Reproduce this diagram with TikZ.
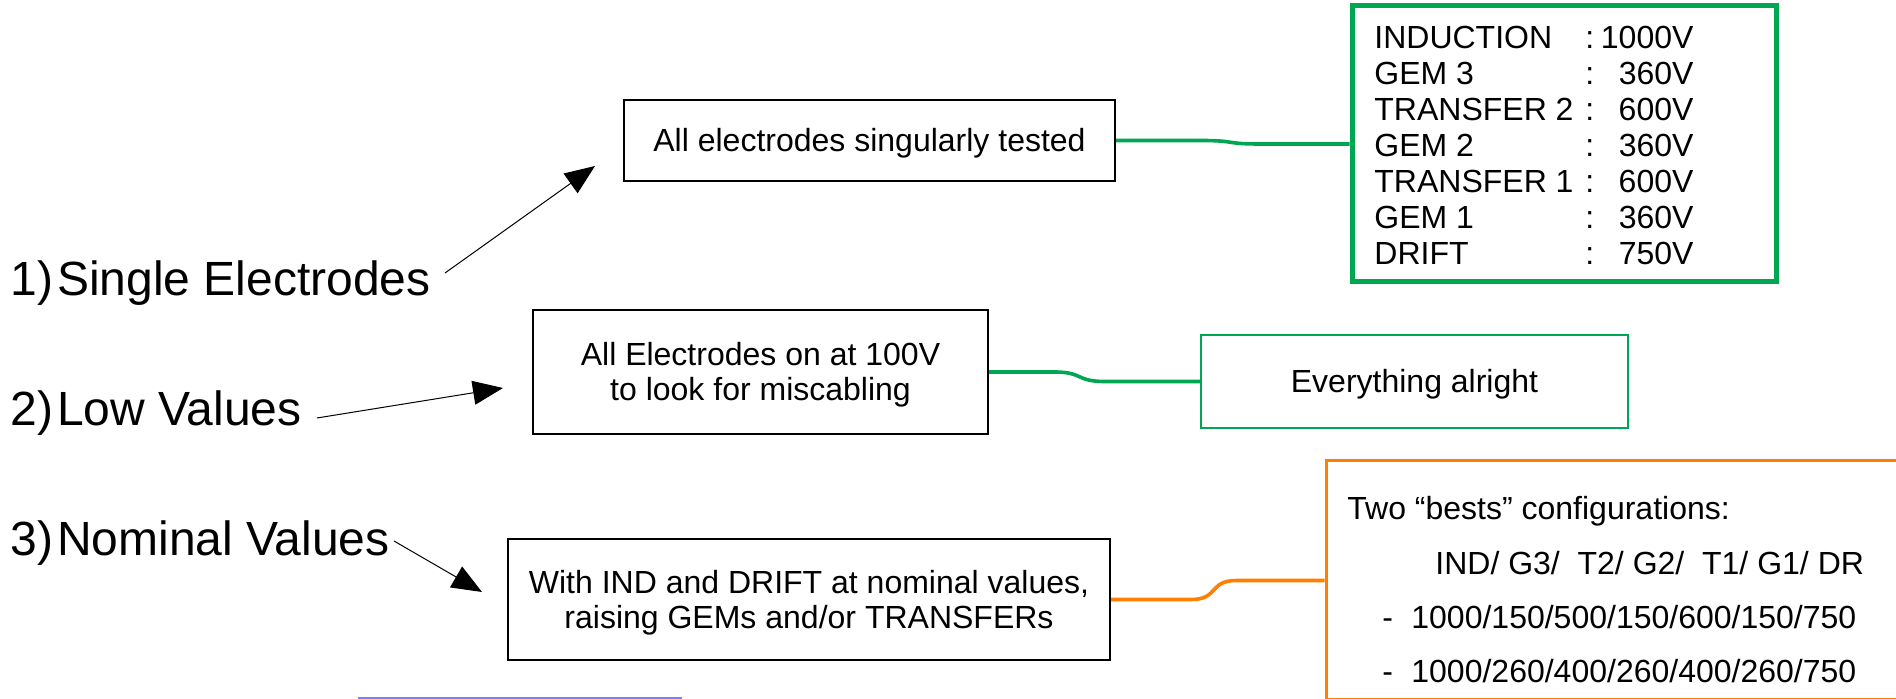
\documentclass[tikz,border=0pt]{standalone}
\usepackage{fontspec}
\setmainfont{Liberation Sans}
\usetikzlibrary{arrows.meta,calc}
\definecolor{lgreen}{RGB}{0,166,81}
\definecolor{lorange}{RGB}{255,128,0}
\definecolor{lblue}{RGB}{125,125,255}
\newcommand{\lowertext}[1]{\raisebox{-2.2pt}[\height][\depth]{\begin{tabular}{@{}c@{}}#1\end{tabular}}}
\begin{document}
\begin{tikzpicture}[x=0.5pt,y=-0.5pt,
  boxtext/.style={inner sep=0pt,align=center,font=\fontsize{16}{17.5}\selectfont},
  blackbox/.style={boxtext,draw=black,line width=1pt},
  steplabel/.style={inner sep=0pt,anchor=base west,font=\fontsize{24}{28}\selectfont},
  plain/.style={inner sep=0pt,anchor=base west,font=\fontsize{16}{17.95}\selectfont},
  pointer/.style={draw=black,line width=0.5pt,-{Triangle[length=15pt,width=12pt]}},
  gline/.style={draw=lgreen,line width=1.8pt},
  oline/.style={draw=lorange,line width=1.8pt}]
\useasboundingbox (0,0) rectangle (1896,699);

% left step labels
\node[steplabel] (l1) at (10,296) {1)\hspace{2pt}Single Electrodes};
\node[steplabel] (l2) at (10,426) {2)\hspace{2pt}Low Values};
\node[steplabel] (l3) at (10,556) {3)\hspace{2pt}Nominal Values};

% boxes
\node[blackbox,minimum width=245.5pt,minimum height=40.5pt] (b1) at (869.5,140.5) {\lowertext{All electrodes singularly tested}};
\node[blackbox,minimum width=227.5pt,minimum height=62pt] (b2) at (760.5,372) {\lowertext{All Electrodes on at 100V\\ to look for miscabling}};
\node[blackbox,minimum width=301pt,minimum height=60.5pt] (b3) at (809,599.5) {\lowertext{With IND and DRIFT at nominal values,\\raising GEMs and/or TRANSFERs}};

\node[draw=lgreen,line width=2.5pt,inner sep=0pt,minimum width=212pt,minimum height=138pt] (gbox) at (1564,144) {};
\node[plain] (gtext) at (1374,49) {\begin{tabular}[t]{@{}l@{}}
\makebox[105.5pt][l]{INDUCTION}:\makebox[49.6pt][r]{1000V}\\
\makebox[105.5pt][l]{GEM 3}:\makebox[49.6pt][r]{360V}\\
\makebox[105.5pt][l]{TRANSFER 2}:\makebox[49.6pt][r]{600V}\\
\makebox[105.5pt][l]{GEM 2}:\makebox[49.6pt][r]{360V}\\
\makebox[105.5pt][l]{TRANSFER 1}:\makebox[49.6pt][r]{600V}\\
\makebox[105.5pt][l]{GEM 1}:\makebox[49.6pt][r]{360V}\\
\makebox[105.5pt][l]{DRIFT}:\makebox[49.6pt][r]{750V}
\end{tabular}};

\node[boxtext,draw=lgreen,line width=1pt,minimum width=213.5pt,minimum height=46.5pt] (ok) at (1414.5,381.5) {\lowertext{Everything alright}};

\node[draw=lorange,line width=1.5pt,inner sep=0pt,minimum width=292pt,minimum height=119.5pt] (obox) at (1618,580.5) {};
\node[plain] (o1) at (1347,519.5) {Two “bests” configurations:};
\node[plain] (o2) at (1435,574.5) {IND/ G3/\ \ T2/ G2/\ \ T1/ G1/ DR};
\node[plain] (o3) at (1382,628.5) {\makebox[14.5pt][l]{-}1000/150/500/150/600/150/750};
\node[plain] (o4) at (1382,682.5) {\makebox[14.5pt][l]{-}1000/260/400/260/400/260/750};

\node[draw=lblue,line width=1pt,inner sep=0pt,minimum width=161pt,minimum height=20pt] (blue) at (520,718) {};

% arrows
\coordinate (a1s) at (445,273); \coordinate (a1e) at (595,166);
\coordinate (a2s) at (317,418); \coordinate (a2e) at (503,388);
\coordinate (a3s) at (394,541); \coordinate (a3e) at (482,592);
\draw[pointer] (a1s) -- (a1e);
\draw[pointer] (a2s) -- (a2e);
\draw[pointer] (a3s) -- (a3e);

% connectors
\draw[gline] (b1.east) -- ++(85,0) .. controls +(35,0) and +(-35,0) .. ($(gbox.west)+(-90,0)$) -- (gbox.west);
\draw[gline] (b2.east) -- ++(65,0) .. controls +(30,0) and +(-30,0) .. ($(ok.west)+(-95,0)$) -- (ok.west);
\draw[oline] (b3.east) -- ++(80,0) .. controls +(28,0) and +(-28,0) .. ($(obox.west)+(-88,0)$) -- (obox.west);
\end{tikzpicture}
\end{document}
